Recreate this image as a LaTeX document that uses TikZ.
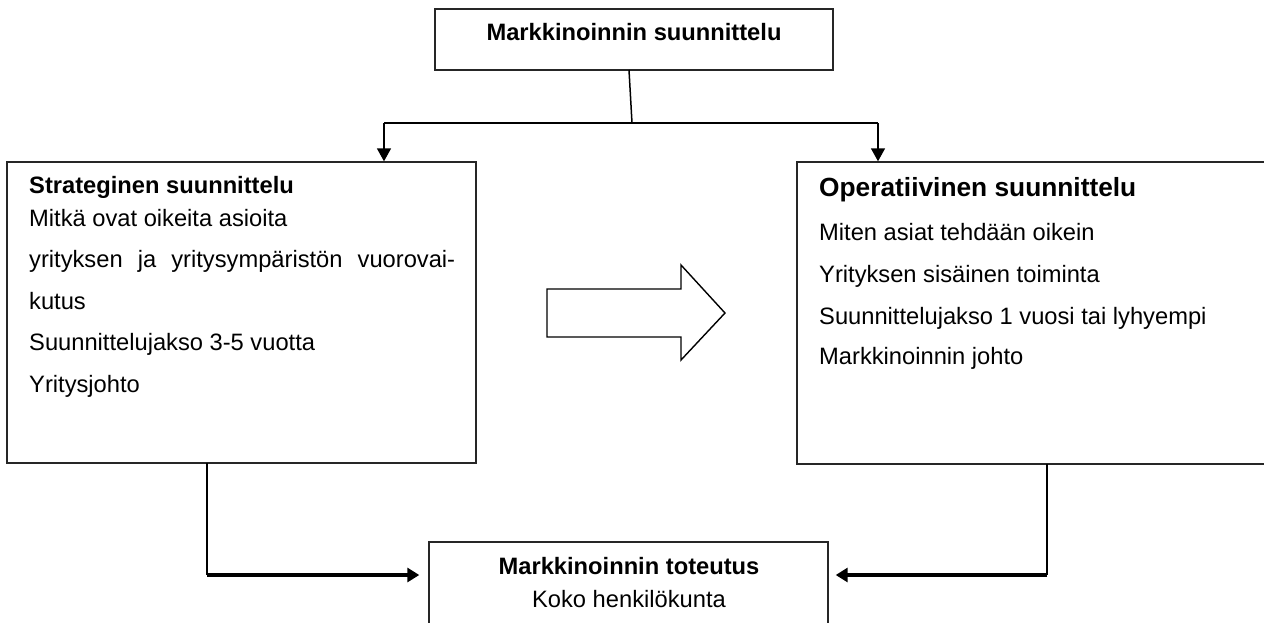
\documentclass[tikz,border=0pt]{standalone}
\usepackage{fontspec}
\setmainfont{Liberation Sans}
\usetikzlibrary{arrows.meta}
\begin{document}
\begin{tikzpicture}[x=1pt,y=-1pt,
  box/.style={draw=black!85, line width=1.4pt, rectangle, inner sep=0pt},
  txt/.style={inner sep=0pt, anchor=base west, font=\fontsize{23.7}{28}\selectfont},
  btxt/.style={inner sep=0pt, anchor=base west, font=\fontsize{23.7}{28}\selectfont\bfseries},
  ctxt/.style={inner sep=0pt, anchor=base, font=\fontsize{23.7}{28}\selectfont},
  cbtxt/.style={inner sep=0pt, anchor=base, font=\fontsize{23.7}{28}\selectfont\bfseries},
  conn/.style={line width=1.5pt, draw=black},
  downarr/.style={conn, -{Triangle[length=13pt,width=14pt]}},
  sidearr/.style={line width=3.2pt, draw=black, -{Triangle[length=12pt,width=14pt]}},
  bigarrow/.style={draw=black, line width=1.4pt, line join=miter, fill=white}
]
\clip (0,0) rectangle (1264,622);
\fill[white] (0,0) rectangle (1264,622);

% boxes
\node[box, minimum width=398pt, minimum height=61pt] (top) at (634,39.5) {};
\node[cbtxt] (toptxt) at (634,40.7) {Markkinoinnin suunnittelu};

\node[box, minimum width=469pt, minimum height=301pt] (strat) at (241.5,312.5) {};
\node[btxt] (s1) at (29,193.3) {Strateginen suunnittelu};
\node[txt] (s2) at (29,226.7) {Mitkä ovat oikeita asioita};
\node[txt] (s3) at (29,267.7) {\hbox to 426pt{yrityksen\hfill ja\hfill yritysympäristön\hfill vuorovai-}};
\node[txt] (s4) at (29,309.3) {kutus};
\node[txt] (s5) at (29,350.7) {Suunnittelujakso 3-5 vuotta};
\node[txt] (s6) at (29,392.3) {Yritysjohto};

\node[box, minimum width=478pt, minimum height=302pt] (oper) at (1036,313) {};
\node[btxt, font=\fontsize{26.3}{30}\selectfont\bfseries] (o1) at (819,196.7) {Operatiivinen suunnittelu};
\node[txt] (o2) at (819,240.7) {Miten asiat tehdään oikein};
\node[txt] (o3) at (819,282.7) {Yrityksen sisäinen toiminta};
\node[txt] (o4) at (819,324) {Suunnittelujakso 1 vuosi tai lyhyempi};
\node[txt] (o5) at (819,364) {Markkinoinnin johto};

\node[box, minimum width=399pt, minimum height=108pt] (tot) at (628.5,596) {};
\node[cbtxt] (t1) at (629,574) {Markkinoinnin toteutus};
\node[ctxt] (t2) at (629,607) {Koko henkilökunta};

% big arrow between the planning boxes
\draw[bigarrow] (547,289) -- (681,289) -- (681,265) -- (725,313) -- (681,360) -- (681,337) -- (547,337) -- cycle;

% connectors from the top box
\coordinate (topout) at (629,70);
\coordinate (j) at (632,123);
\coordinate (jl) at (384,123);
\coordinate (jr) at (878,123);
\draw[conn] (topout) -- (j);
\draw[conn] (jl) -- (jr);
\draw[downarr] (jl) -- (strat.north -| jl);
\draw[downarr] (jr) -- (oper.north -| jr);

% connectors to the bottom box
\coordinate (lb) at (207,463);
\coordinate (lc) at (207,575);
\coordinate (rb) at (1047,464);
\coordinate (rc) at (1047,575);
\draw[conn] (lb) -- (lc);
\draw[conn] (rb) -- (rc);
\draw[sidearr, shorten >=9pt] (lc) -- (lc -| tot.west);
\draw[sidearr, shorten >=7pt] (rc) -- (rc -| tot.east);
\end{tikzpicture}
\end{document}
